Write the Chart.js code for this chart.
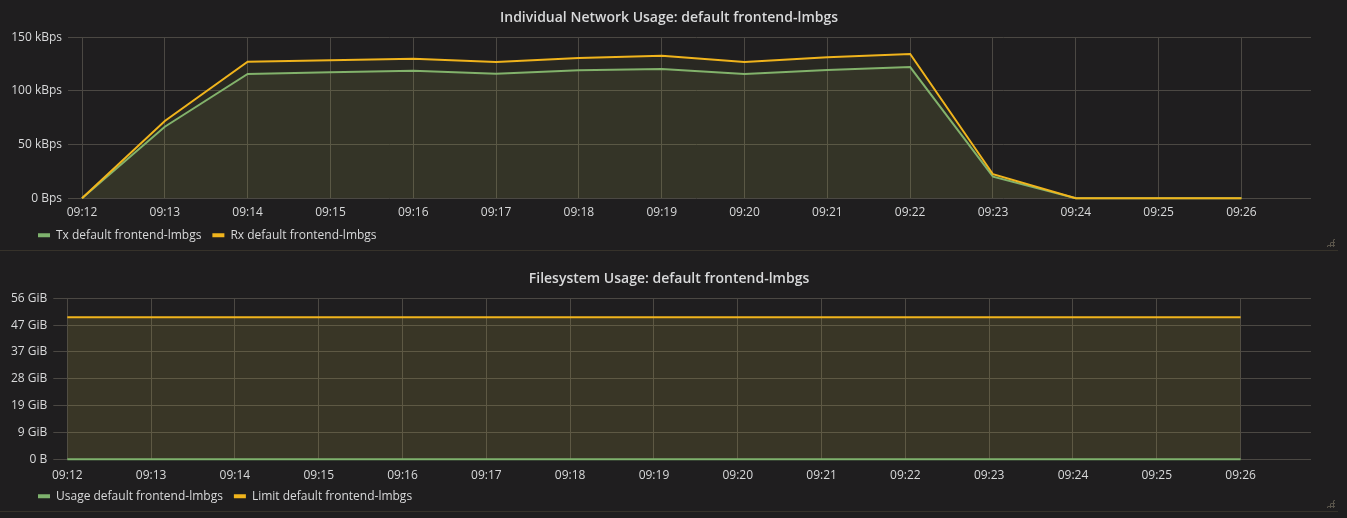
<!DOCTYPE html>
<html><head><meta charset="utf-8">
<script src="https://cdn.jsdelivr.net/npm/chart.js@4.4.0/dist/chart.umd.min.js"></script>
<style>
html,body{margin:0;padding:0;background:#1f1e1f;width:1347px;height:518px;overflow:hidden}
.panel{position:absolute;left:0;width:1338px;border-bottom:1px solid #36322a;}
#p1{top:0;height:250px}
#p2{top:252px;height:259px}
canvas{display:block}
.grip{position:absolute;width:9px;height:9px;
  background-image:radial-gradient(circle, #5a554b 1px, transparent 1.2px);
  background-size:3px 3px;clip-path:polygon(100% 0,100% 100%,0 100%);}
</style></head><body>
<div class="panel" id="p1"><canvas id="c1" width="1338" height="250"></canvas><div class="grip" style="left:1326px;top:238px"></div></div>
<div class="panel" id="p2"><canvas id="c2" width="1338" height="259"></canvas><div class="grip" style="left:1326px;top:247px"></div></div>
<script>
// ---- data ----
const categories = ["09:12","09:13","09:14","09:15","09:16","09:17","09:18","09:19","09:20","09:21","09:22","09:23","09:24","09:25","09:26"];
const txValues = [0, 66.7, 115.8, 117.4, 118.8, 116.0, 119.2, 120.5, 115.8, 119.5, 122.3, 20.1, 0, 0, 0];
const rxValues = [0, 72.0, 127.3, 128.6, 130.0, 127.0, 130.7, 132.9, 127.0, 131.4, 134.4, 22.4, 0, 0, 0];
const netTickValues = [0, 50, 100, 150];
const netTickLabels = ["0 Bps", "50 kBps", "100 kBps", "150 kBps"];
const usageValues = [0.05,0.05,0.05,0.05,0.05,0.05,0.05,0.05,0.05,0.05,0.05,0.05,0.05,0.05,0.05];
const limitValues = [49.4,49.4,49.4,49.4,49.4,49.4,49.4,49.4,49.4,49.4,49.4,49.4,49.4,49.4,49.4];
const fsTickValues = [0, 9.333, 18.667, 28, 37.333, 46.667, 56];
const fsTickLabels = ["0 B", "9 GiB", "19 GiB", "28 GiB", "37 GiB", "47 GiB", "56 GiB"];

const GREEN = '#7eb26d', YELLOW = '#f0b41c';
const TEXT = '#d8d9da', GRID = '#4b4843';
const FONT = '"Open Sans", "Noto Sans", sans-serif';
const LEFT_INSET = 27;
const LEGEND_H = 30;
const XAXIS_H = 20;

function pts(vals){ return vals.map((v,i)=>({x:i, y:v})); }

const layoutPlugin = {
  id: 'fixedBoxes',
  beforeLayout(chart) {
    const lg = chart.legend;
    if (lg && !lg._fixedFit) {
      const orig = lg.fit.bind(lg);
      lg.fit = function () { orig(); this.height = LEGEND_H; };
      lg._fixedFit = true;
    }
  },
  afterLayout(chart) {
    if (chart.legend) chart.legend.left = LEFT_INSET;
    if (chart.titleBlock) chart.titleBlock.left = LEFT_INSET;
  }
};

function makeChart(id, title, titlePad, yAxisWidth, yMax, yTickVals, yTickLabels, padBottom, xPad, series){
  const ctx = document.getElementById(id);
  return new Chart(ctx, {
    type: 'line',
    plugins: [layoutPlugin],
    data: {
      datasets: series.map(s => ({
        label: s.label, data: pts(s.values), borderColor: s.color, backgroundColor: s.fill,
        borderWidth: 2, pointRadius: 0, tension: 0, fill: 'origin', order: s.order, clip: 3
      }))
    },
    options: {
      responsive: false, animation: false, events: [], devicePixelRatio: 1,
      layout: { padding: { left: 0, right: 27, top: 0, bottom: padBottom } },
      plugins: {
        title: { display: true, text: title, color: TEXT,
          font: { family: FONT, size: 14, weight: '600', lineHeight: 1.2 },
          padding: titlePad },
        legend: { display: true, position: 'bottom', align: 'start',
          labels: { color: TEXT, font: { family: FONT, size: 12 }, boxWidth: 12, boxHeight: 4, padding: 11,
            generateLabels: (chart) => chart.data.datasets.map((ds, i) => ({
              text: ds.label, fillStyle: ds.borderColor, strokeStyle: ds.borderColor,
              lineWidth: 0, hidden: false, datasetIndex: i, fontColor: TEXT }))
          } },
        tooltip: { enabled: false }
      },
      scales: {
        x: { type: 'linear', min: 0, max: 14.84,
          afterBuildTicks: (s) => { s.ticks = categories.map((c, i) => ({ value: i })); },
          afterFit: (s) => { s.height = XAXIS_H; },
          ticks: { callback: (v) => categories[v], color: TEXT, font: { family: FONT, size: 12 },
            padding: xPad, maxRotation: 0, autoSkip: false },
          grid: { color: GRID, drawTicks: false, lineWidth: 1 },
          border: { display: false } },
        y: { type: 'linear', min: 0, max: yMax,
          afterBuildTicks: (s) => { s.ticks = yTickVals.map(v => ({ value: v })); },
          afterFit: (s) => { s.width = yAxisWidth; },
          ticks: { callback: (v) => yTickLabels[yTickVals.indexOf(v)], color: TEXT,
            font: { family: FONT, size: 12 }, padding: 6 },
          grid: { color: GRID, drawTicks: true, tickLength: 14, lineWidth: 1 },
          border: { display: false } }
      }
    }
  });
}

makeChart('c1', 'Individual Network Usage: default frontend-lmbgs', { top: 10, bottom: 10.5 }, 82,
  150, netTickValues, netTickLabels, 1.7, 7.5, [
    { label: 'Tx default frontend-lmbgs', values: txValues, color: GREEN, fill: 'rgba(170,180,90,0.09)', order: 1 },
    { label: 'Rx default frontend-lmbgs', values: rxValues, color: YELLOW, fill: 'rgba(190,180,80,0.07)', order: 0 }
  ]);

makeChart('c2', 'Filesystem Usage: default frontend-lmbgs', { top: 18.9, bottom: 10.6 }, 67.3,
  56, fsTickValues, fsTickLabels, 1.7, 9, [
    { label: 'Usage default frontend-lmbgs', values: usageValues, color: GREEN, fill: 'rgba(170,180,90,0.02)', order: 0 },
    { label: 'Limit default frontend-lmbgs', values: limitValues, color: YELLOW, fill: 'rgba(190,180,80,0.17)', order: 1 }
  ]);
</script>
</body></html>
